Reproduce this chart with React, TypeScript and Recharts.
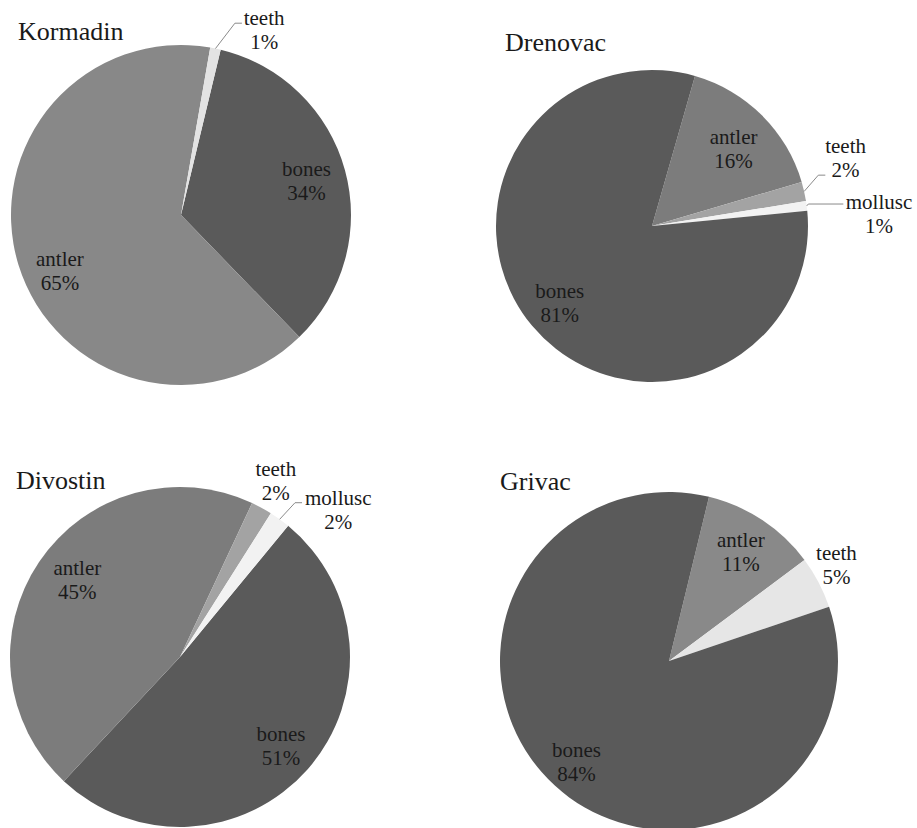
import { PieChart, Pie, Cell } from "recharts";

// values are percentages, listed in clockwise order from each pie's start angle
const kormadinNames = ["bones", "antler", "teeth"];
const kormadinValues = [34, 65, 1];

const drenovacNames = ["antler", "teeth", "mollusc", "bones"];
const drenovacValues = [16, 2, 1, 81];

const divostinNames = ["bones", "antler", "teeth", "mollusc"];
const divostinValues = [51, 45, 2, 2];

const grivacNames = ["antler", "teeth", "bones"];
const grivacValues = [11, 5, 84];

const FONT = '"Liberation Serif", "Times New Roman", serif';
const RAD = Math.PI / 180;

const DARK = "#5a5a5a";

type Leader = { r: number; a: number; len: number };
type Spot = { r: number; a?: number; leader?: Leader };

type PieSpec = {
  title: string;
  titleX: number;
  titleY: number;
  names: string[];
  values: number[];
  colors: string[];
  cx: number;
  cy: number;
  radius: number;
  start: number;
  spots: Spot[];
};

const pies: PieSpec[] = [
  {
    title: "Kormadin",
    titleX: 18,
    titleY: 40,
    names: kormadinNames,
    values: kormadinValues,
    colors: [DARK, "#888888", "#e3e3e3"],
    cx: 181,
    cy: 215,
    radius: 170,
    start: 76.5,
    spots: [
      { r: 0.765 },
      { r: 0.786, a: 205 },
      { r: 1.193, a: 65.8, leader: { r: 1.172, a: 74.3, len: 7 } },
    ],
  },
  {
    title: "Drenovac",
    titleX: 505,
    titleY: 51,
    names: drenovacNames,
    values: drenovacValues,
    colors: ["#7c7c7c", "#a3a3a3", "#f2f2f2", DARK],
    cx: 652,
    cy: 226,
    radius: 156,
    start: 74,
    spots: [
      { r: 0.72, a: 43.4 },
      { r: 1.315, a: 19.3, leader: { r: 1.115, a: 17, len: 7 } },
      { r: 1.457, a: 3.0, leader: { r: 1.012, a: 8, len: 35 } },
      { r: 0.77 },
    ],
  },
  {
    title: "Divostin",
    titleX: 16,
    titleY: 489,
    names: divostinNames,
    values: divostinValues,
    colors: [DARK, "#7c7c7c", "#a3a3a3", "#f2f2f2"],
    cx: 180,
    cy: 657,
    radius: 170,
    start: 50.5,
    spots: [
      { r: 0.79 },
      { r: 0.755, a: 143.1 },
      { r: 1.177, a: 61.4 },
      { r: 1.269, a: 42.8, leader: { r: 1.132, a: 53.3, len: 7 } },
    ],
  },
  {
    title: "Grivac",
    titleX: 500,
    titleY: 490,
    names: grivacNames,
    values: grivacValues,
    colors: ["#898989", "#e6e6e6", DARK],
    cx: 669,
    cy: 661,
    radius: 169,
    start: 76.3,
    spots: [{ r: 0.77 }, { r: 1.142, a: 29.8 }, { r: 0.81 }],
  },
];

const polar = (cx: number, cy: number, r: number, a: number) => ({
  x: cx + r * Math.cos(a * RAD),
  y: cy - r * Math.sin(a * RAD),
});

function makeLabel(spec: PieSpec) {
  return (props: any) => {
    const { cx, cy, midAngle, outerRadius, index, value } = props;
    const spot = spec.spots[index] || { r: 0.77 };
    const p = polar(cx, cy, spot.r * outerRadius, spot.a ?? midAngle);
    const name = spec.names[index] ?? props.name;
    let line = null;
    if (spot.leader) {
      const s = polar(cx, cy, outerRadius, midAngle);
      const e = polar(cx, cy, spot.leader.r * outerRadius, spot.leader.a);
      line = (
        <polyline
          points={`${s.x},${s.y} ${e.x},${e.y} ${e.x + spot.leader.len},${e.y}`}
          fill="none"
          stroke="#8a8a8a"
          strokeWidth={1}
        />
      );
    }
    return (
      <g>
        {line}
        <text
          x={p.x}
          y={p.y - 5}
          textAnchor="middle"
          fontFamily={FONT}
          fontSize={21}
          fill="#1a1a1a"
        >
          <tspan x={p.x}>{name}</tspan>
          <tspan x={p.x} dy={24}>{`${value}%`}</tspan>
        </text>
      </g>
    );
  };
}

export default function App() {
  return (
    <div
      style={{
        position: "absolute",
        left: 0,
        top: 0,
        width: 917,
        height: 828,
        background: "#fff",
      }}
    >
      <PieChart width={917} height={828} margin={{ top: 0, right: 0, bottom: 0, left: 0 }}>
        {pies.map((spec) => (
          <Pie
            key={spec.title}
            data={spec.names.map((n, i) => ({ name: n, value: spec.values[i] }))}
            dataKey="value"
            nameKey="name"
            cx={spec.cx}
            cy={spec.cy}
            outerRadius={spec.radius}
            startAngle={spec.start}
            endAngle={spec.start - 360}
            stroke="none"
            labelLine={false}
            label={makeLabel(spec)}
            isAnimationActive={false}
          >
            {spec.colors.map((c, i) => (
              <Cell key={i} fill={c} />
            ))}
          </Pie>
        ))}
      </PieChart>
      <svg
        width={917}
        height={828}
        style={{ position: "absolute", left: 0, top: 0, pointerEvents: "none" }}
      >
        {pies.map((spec) => (
          <text
            key={spec.title}
            x={spec.titleX}
            y={spec.titleY}
            fontFamily={FONT}
            fontSize={26}
            fill="#1a1a1a"
          >
            {spec.title}
          </text>
        ))}
      </svg>
    </div>
  );
}
